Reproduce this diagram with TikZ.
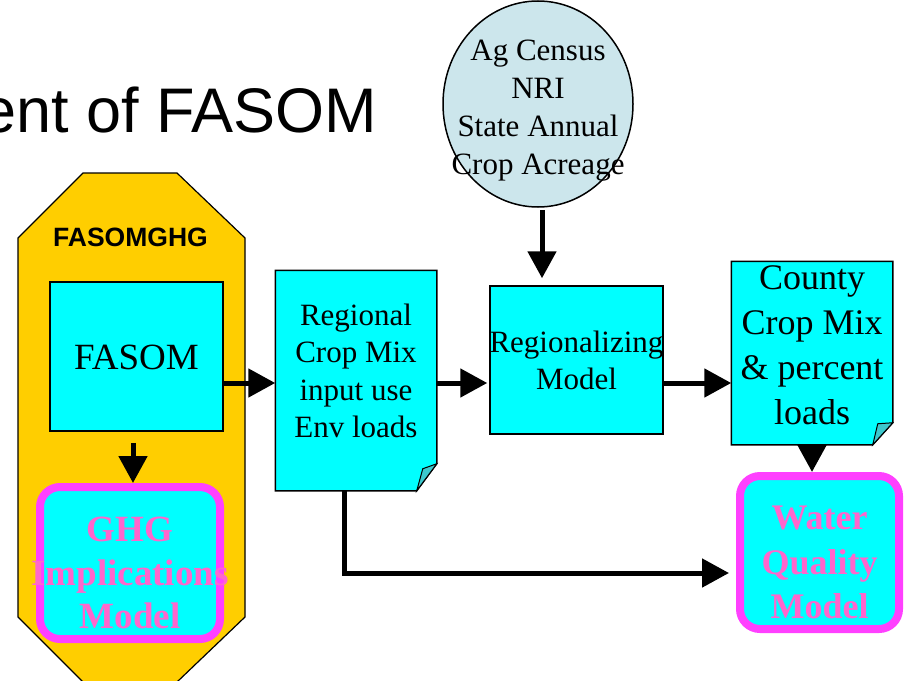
\documentclass[tikz,border=0pt]{standalone}
\usepackage{fontspec}
\setmainfont{Liberation Serif}
\newfontfamily\arialf{Liberation Sans}
\usetikzlibrary{arrows.meta,shapes.geometric,calc}
\definecolor{boxcyan}{RGB}{0,255,255}
\definecolor{goldc}{RGB}{255,206,0}
\definecolor{circc}{RGB}{204,230,236}
\definecolor{magb}{RGB}{255,64,255}
\definecolor{pinkt}{RGB}{255,102,204}
\definecolor{flapc}{RGB}{60,200,205}
\tikzset{
 boxst/.style={draw, line width=1.5pt, fill=boxcyan, inner sep=0pt, outer sep=0.75pt},
 holder/.style={draw=none, inner sep=0pt, outer sep=0.75pt},
 docline/.style={draw, line width=1.5pt, fill=boxcyan},
 flapst/.style={draw, line width=1pt, fill=flapc},
 modelst/.style={draw=magb, line width=8pt, fill=boxcyan, rounded corners=20pt, inner sep=0pt, outer sep=4pt},
 arr/.style={line width=5pt, -{Triangle[length=27pt,width=28pt]}},
 txt/.style={align=center, inner sep=0pt},
 pinktxt/.style={align=center, inner sep=0pt, text=pinkt, font=\bfseries\fontsize{36}{44.5}\selectfont},
}
\begin{document}
\begin{tikzpicture}[x=1pt,y=-1pt]
\useasboundingbox (0,0) rectangle (907,680);
\clip (0,0) rectangle (907,680);
% container
\draw[fill=goldc, line width=1.2pt] (83,173) -- (177,173) -- (245,238) -- (245,617) -- (177,682) -- (83,682) -- (18,617) -- (18,238) -- cycle;
\node[txt, font=\arialf\bfseries\fontsize{26.5}{30}\selectfont] (fghg) at (130.5,237) {FASOMGHG};
% title
\node[txt, anchor=base east, font=\arialf\fontsize{63}{63}\selectfont] (title) at (377,132) {ent of FASOM};
% circle
\node[ellipse, draw, line width=1.5pt, fill=circc, minimum width=190pt, minimum height=206pt, inner sep=0pt, outer sep=0.75pt] (circ) at (538,104) {};
\node[txt, font=\fontsize{31}{38}\selectfont] (circt) at (538,111) {Ag Census\\NRI\\State Annual\\Crop Acreage};
% boxes
\node[boxst, minimum width=173pt, minimum height=149pt] (fasom) at (136.5,356.5) {};
\node[txt, font=\fontsize{37}{44}\selectfont] (fasomt) at (136.5,357) {FASOM};
\node[holder, minimum width=160pt, minimum height=219pt] (regional) at (356,380.5) {};
\draw[docline] (regional.north west) -- (regional.north east) -- ([yshift=27pt]regional.south east) -- ([xshift=-20pt]regional.south east) -- (regional.south west) -- cycle;
\draw[flapst] ([yshift=27pt]regional.south east) -- ([xshift=-20pt]regional.south east) -- ([xshift=-14pt,yshift=22pt]regional.south east) -- cycle;
\node[txt, font=\fontsize{31}{37.5}\selectfont] (regionalt) at (356,371) {Regional\\Crop Mix\\input use\\Env loads};
\node[boxst, minimum width=173pt, minimum height=148pt] (regz) at (576.5,360) {};
\node[txt, font=\fontsize{31}{37}\selectfont] (regzt) at (576.5,360) {Regionalizing\\Model};
\node[holder, minimum width=160pt, minimum height=182pt] (county) at (812,353) {};
\draw[docline] (county.north west) -- (county.north east) -- ([yshift=22pt]county.south east) -- ([xshift=-20pt]county.south east) -- (county.south west) -- cycle;
\draw[flapst] ([yshift=22pt]county.south east) -- ([xshift=-20pt]county.south east) -- ([xshift=-15pt,yshift=21pt]county.south east) -- cycle;
\node[txt, font=\fontsize{36}{45}\selectfont] (countyt) at (812,345.5) {County\\Crop Mix\\\& percent\\loads};
\node[modelst, minimum width=159pt, minimum height=153pt] (water) at (819.5,552.5) {};
\node[pinktxt] (watert) at (819.5,562.5) {Water\\Quality\\Model};
\node[modelst, minimum width=180pt, minimum height=152pt] (ghg) at (130,563) {};
\node[pinktxt, font=\bfseries\fontsize{37}{43.5}\selectfont] (ghgt) at (130,573) {GHG\\Implications\\Model};
% connectors
\coordinate (row) at (0,383);
\coordinate (ccol) at (542,0);
\coordinate (gcol) at (133,0);
\coordinate (lrow) at (0,573);
\coordinate (lcol) at (344,0);
\draw[arr] (fasom.east |- row) -- (regional.west |- row);
\draw[arr, shorten >=2pt] (regional.east |- row) -- (regz.west |- row);
\draw[arr] (regz.east |- row) -- (county.west |- row);
\draw[arr, shorten <=2pt, shorten >=7pt] (circ.south -| ccol) -- (regz.north -| ccol);
\draw[arr, shorten <=11pt] (fasom.south -| gcol) -- (ghg.north -| gcol);
\draw[arr] (county.south) -- (water.north -| county.south);
\draw[arr, shorten >=7pt] (regional.south -| lcol) |- (water.west |- lrow);
\end{tikzpicture}
\end{document}
